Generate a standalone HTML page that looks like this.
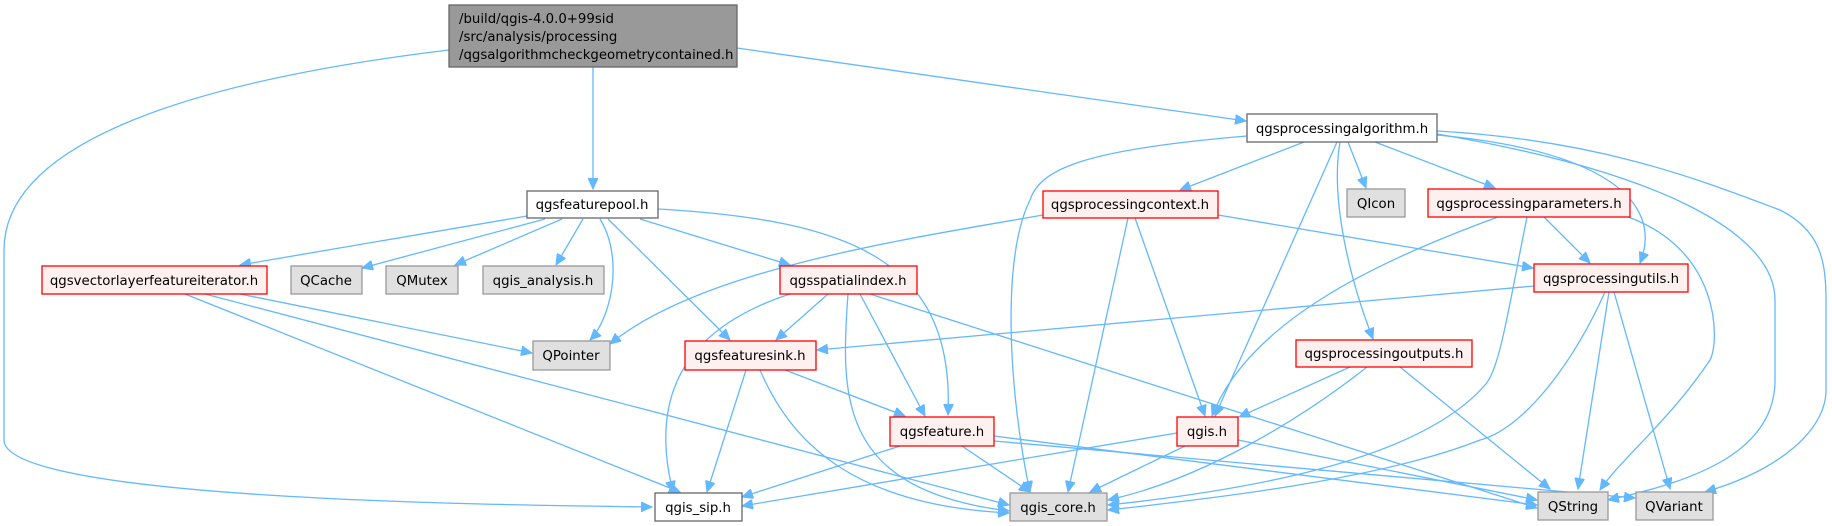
<!DOCTYPE html>
<html><head><meta charset="utf-8"><style>
html,body{margin:0;padding:0;background:#fff;}
svg{display:block;}
text{font-family:"DejaVu Sans","Liberation Sans",sans-serif;font-size:13.3px;fill:#000;}
.e{fill:none;stroke:#63b8ff;stroke-width:1.3;marker-end:url(#a);}
.w{fill:#fff;stroke:#666;stroke-width:1.3;}
.r{fill:#fff0f0;stroke:#f00;stroke-width:1.3;}
.g{fill:#e0e0e0;stroke:#999;stroke-width:1.3;}
</style></head><body>
<svg width="1832" height="526" viewBox="0 0 1832 526" xmlns="http://www.w3.org/2000/svg">
<defs><marker id="a" markerUnits="userSpaceOnUse" markerWidth="12" markerHeight="10" refX="11" refY="5" orient="auto"><path d="M0,0 L11,5 L0,10 z" fill="#63b8ff" stroke="#63b8ff"/></marker></defs>
<g>
<path class="e" d="M449,50 C200,80 4,140 4,250 L4,440 C4,500 500,505 652,507"/>
<path class="e" d="M593,67 L593,189"/>
<path class="e" d="M737,48 L1246,121"/>
<path class="e" d="M527,216 L240,265"/>
<path class="e" d="M545,219 L362,268"/>
<path class="e" d="M562,219 L455,265"/>
<path class="e" d="M583,219 L556,265"/>
<path class="e" d="M600,219 C625,260 610,320 590,340"/>
<path class="e" d="M608,219 L730,340"/>
<path class="e" d="M640,219 L790,265"/>
<path class="e" d="M658,209 C850,220 955,260 948,415"/>
<path class="e" d="M240,294 L532,353"/>
<path class="e" d="M185,294 L680,492"/>
<path class="e" d="M205,294 L1009,505"/>
<path class="e" d="M828,294 L776,340"/>
<path class="e" d="M790,294 C680,330 650,400 673,492"/>
<path class="e" d="M848,294 C840,400 840,490 1009,511"/>
<path class="e" d="M860,294 L925,416"/>
<path class="e" d="M870,294 L1537,508"/>
<path class="e" d="M746,370 L707,492"/>
<path class="e" d="M760,370 C790,440 850,505 1009,513"/>
<path class="e" d="M785,370 L905,416"/>
<path class="e" d="M900,446 L742,497"/>
<path class="e" d="M962,446 L1030,492"/>
<path class="e" d="M994,436 L1537,505"/>
<path class="e" d="M994,441 L1635,498"/>
<path class="e" d="M1177,433 L742,506"/>
<path class="e" d="M1185,446 L1090,492"/>
<path class="e" d="M1238,440 L1537,500"/>
<path class="e" d="M1247,136 C1080,150 1040,170 1030,200 C1000,260 1010,400 1030,492"/>
<path class="e" d="M1304,142 L1180,190"/>
<path class="e" d="M1337,142 L1215,416"/>
<path class="e" d="M1348,142 L1366,188"/>
<path class="e" d="M1340,142 C1330,200 1350,280 1373,339"/>
<path class="e" d="M1375,142 L1495,188"/>
<path class="e" d="M1437,135 C1600,150 1665,200 1640,263"/>
<path class="e" d="M1437,134 C1650,170 1775,230 1775,300 L1775,380 C1775,450 1700,480 1608,500"/>
<path class="e" d="M1437,131 C1600,140 1700,180 1780,210 C1820,230 1826,260 1826,300 L1826,390 C1826,430 1780,470 1705,492"/>
<path class="e" d="M1043,215 C900,240 700,270 610,344"/>
<path class="e" d="M1128,218 L1068,492"/>
<path class="e" d="M1135,218 L1205,416"/>
<path class="e" d="M1218,215 L1533,268"/>
<path class="e" d="M1498,217 C1380,260 1250,320 1212,416"/>
<path class="e" d="M1527,217 C1510,300 1500,370 1485,385 C1420,460 1250,490 1108,505"/>
<path class="e" d="M1544,217 L1590,263"/>
<path class="e" d="M1628,217 C1720,250 1720,340 1710,360 C1670,420 1620,460 1600,490"/>
<path class="e" d="M1534,286 L817,350"/>
<path class="e" d="M1605,292 C1570,370 1520,430 1480,440 C1380,480 1200,500 1108,510"/>
<path class="e" d="M1609,292 L1578,489"/>
<path class="e" d="M1614,292 L1670,489"/>
<path class="e" d="M1350,367 L1239,417"/>
<path class="e" d="M1367,367 C1300,420 1200,480 1108,500"/>
<path class="e" d="M1400,367 L1550,489"/>
</g>
<g>
<rect x="449" y="5" width="288" height="62" fill="#999" stroke="#666" stroke-width="1.3"/>
<text x="459" y="23">/build/qgis-4.0.0+99sid</text>
<text x="459" y="41">/src/analysis/processing</text>
<text x="459" y="59">/qgsalgorithmcheckgeometrycontained.h</text>
<g text-anchor="middle">
<rect class="w" x="527" y="191" width="131" height="27"/><text x="592" y="209">qgsfeaturepool.h</text>
<rect class="w" x="1247" y="114" width="190" height="28"/><text x="1342" y="133">qgsprocessingalgorithm.h</text>
<rect class="r" x="42" y="266" width="225" height="28"/><text x="154" y="285">qgsvectorlayerfeatureiterator.h</text>
<rect class="g" x="291" y="266" width="71" height="28"/><text x="326" y="285">QCache</text>
<rect class="g" x="386" y="266" width="72" height="28"/><text x="422" y="285">QMutex</text>
<rect class="g" x="483" y="266" width="121" height="28"/><text x="543" y="285">qgis_analysis.h</text>
<rect class="r" x="1043" y="191" width="175" height="27"/><text x="1130" y="209">qgsprocessingcontext.h</text>
<rect class="g" x="1347" y="189" width="58" height="28"/><text x="1376" y="208">QIcon</text>
<rect class="r" x="1428" y="189" width="202" height="28"/><text x="1529" y="208">qgsprocessingparameters.h</text>
<rect class="r" x="780" y="266" width="137" height="28"/><text x="848" y="285">qgsspatialindex.h</text>
<rect class="r" x="1534" y="264" width="154" height="28"/><text x="1611" y="283">qgsprocessingutils.h</text>
<rect class="g" x="533" y="341" width="77" height="29"/><text x="571" y="360">QPointer</text>
<rect class="r" x="685" y="341" width="131" height="29"/><text x="750" y="360">qgsfeaturesink.h</text>
<rect class="r" x="1296" y="340" width="176" height="27"/><text x="1384" y="358">qgsprocessingoutputs.h</text>
<rect class="r" x="890" y="417" width="104" height="29"/><text x="942" y="436">qgsfeature.h</text>
<rect class="r" x="1177" y="417" width="61" height="29"/><text x="1207" y="436">qgis.h</text>
<rect class="w" x="655" y="493" width="87" height="28"/><text x="698" y="512">qgis_sip.h</text>
<rect class="g" x="1010" y="493" width="97" height="28"/><text x="1058" y="512">qgis_core.h</text>
<rect class="g" x="1538" y="492" width="70" height="28"/><text x="1573" y="511">QString</text>
<rect class="g" x="1636" y="492" width="77" height="28"/><text x="1674" y="511">QVariant</text>
</g>
</g>
</svg>
</body></html>
